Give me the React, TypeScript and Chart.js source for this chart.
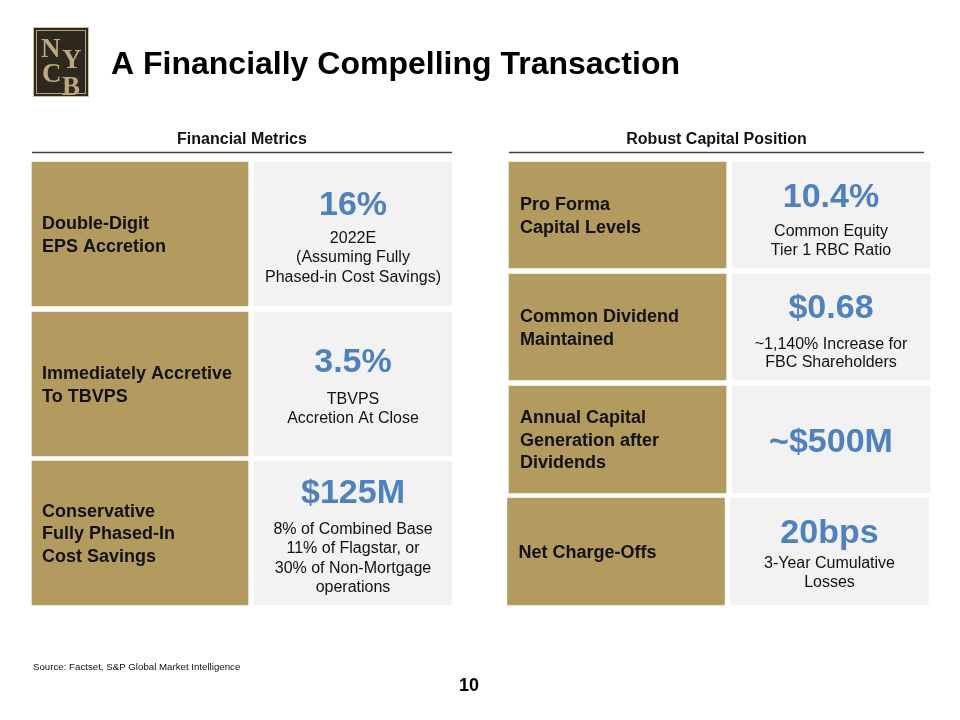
import React, { useEffect, useRef } from "react";
import { Chart, registerables } from "chart.js";

Chart.register(...registerables);

// ---- data ----
const slideTitle = "A Financially Compelling Transaction";
const panelTitles = ["Financial Metrics", "Robust Capital Position"];
const logoLetters = ["N", "Y", "C", "B"];

const leftLabels = [
  ["Double-Digit", "EPS Accretion"],
  ["Immediately Accretive", "To TBVPS"],
  ["Conservative", "Fully Phased-In", "Cost Savings"],
];
const leftValues = ["16%", "3.5%", "$125M"];
const leftNotes = [
  ["2022E", "(Assuming Fully", "Phased-in Cost Savings)"],
  ["TBVPS", "Accretion At Close"],
  ["8% of Combined Base", "11% of Flagstar, or", "30% of Non-Mortgage", "operations"],
];

const rightLabels = [
  ["Pro Forma", "Capital Levels"],
  ["Common Dividend", "Maintained"],
  ["Annual Capital", "Generation after", "Dividends"],
  ["Net Charge-Offs"],
];
const rightValues = ["10.4%", "$0.68", "~$500M", "20bps"];
const rightNotes = [
  ["Common Equity", "Tier 1 RBC Ratio"],
  ["~1,140% Increase for", "FBC Shareholders"],
  [],
  ["3-Year Cumulative", "Losses"],
];

const sourceNote = "Source: Factset, S&P Global Market Intelligence";
const pageNumber = "10";

// ---- layout (positions, separate from the data) ----
const leftRows = [[162, 306], [312, 456], [461, 605]];
const rightRows = [[162, 268], [274, 380], [386, 493], [498, 605]];
const rightRowShift = [0, 0, 0, -1.5];
const leftGold = [32, 248];
const leftGray = [254, 452];
const rightGold = [509, 726];
const rightGray = [732, 930];
const leftValueY = [215, 372, 503];
const leftGap = [28, 32, 31];
const rightValueY = [206.5, 318, 451.5, 543];
const rightGap = [29.5, 30.5, 0, 25];
const logoPos = [[41, 57], [62, 68], [42, 82], [62, 95]];

const GOLD = "#B39A5F";
const GRAY = "#F2F2F2";
const BLUE = "#4F81BD";
const INK = "#111111";
const FONT = '"Liberation Sans", Arial, sans-serif';

function tileDataset(col: number[], rows: number[][], color: string, shift?: number[]) {
  return {
    type: "bar" as const,
    data: rows.map((r, i) => ({ x: (col[0] + col[1]) / 2 + (shift ? shift[i] : 0), y: [r[0], r[1]] })),
    backgroundColor: color,
    borderWidth: 0,
    barThickness: col[1] - col[0],
    stack: "tiles",
    grouped: true,
  };
}

const slidePlugin = {
  id: "slideText",
  afterDatasetsDraw(chart: any) {
    const ctx = chart.ctx as CanvasRenderingContext2D;
    const xs = chart.scales.x;
    const ys = chart.scales.y;
    const X = (v: number) => xs.getPixelForValue(v);
    const Y = (v: number) => ys.getPixelForValue(v);
    ctx.save();

    // logo
    ctx.fillStyle = "#2E281F";
    ctx.fillRect(X(33), Y(27), X(89) - X(33), Y(97) - Y(27));
    ctx.strokeStyle = "#CDBE9F";
    ctx.lineWidth = 1;
    ctx.strokeRect(X(33.5), Y(27.5), 55, 69);
    ctx.strokeStyle = "#B8A47C";
    ctx.strokeRect(X(36.5), Y(30.5), 49, 63);
    ctx.fillStyle = "#BCA87F";
    ctx.font = `bold 27px "Liberation Serif", "DejaVu Serif", serif`;
    ctx.textAlign = "left";
    ctx.textBaseline = "alphabetic";
    logoLetters.forEach((l, i) => ctx.fillText(l, X(logoPos[i][0]), Y(logoPos[i][1])));

    // title
    ctx.fillStyle = "#000";
    ctx.font = `bold 32px ${FONT}`;
    ctx.fillText(slideTitle, X(111), Y(74));

    // panel headings + rules
    ctx.font = `bold 16px ${FONT}`;
    ctx.textAlign = "center";
    ctx.fillStyle = "#111";
    ctx.fillText(panelTitles[0], X((32 + 452) / 2), Y(144));
    ctx.fillText(panelTitles[1], X((509 + 924) / 2), Y(144));
    ctx.strokeStyle = "#404040";
    ctx.lineWidth = 1.5;
    ctx.beginPath();
    ctx.moveTo(X(32), Y(152.5));
    ctx.lineTo(X(452), Y(152.5));
    ctx.moveTo(X(509), Y(152.5));
    ctx.lineTo(X(924), Y(152.5));
    ctx.stroke();

    const labelBlock = (lines: string[], x: number, r: number[]) => {
      ctx.font = `bold 18px ${FONT}`;
      ctx.textAlign = "left";
      ctx.fillStyle = INK;
      const c = (r[0] + r[1]) / 2;
      const sp = 22.5;
      const first = c - ((lines.length - 1) * sp) / 2 + 6.4;
      lines.forEach((t, i) => ctx.fillText(t, X(x), Y(first + i * sp)));
    };
    const valueBlock = (v: string, notes: string[], cx: number, vy: number, gap: number, sp: number) => {
      ctx.textAlign = "center";
      ctx.fillStyle = BLUE;
      ctx.font = `bold 34px ${FONT}`;
      ctx.fillText(v, X(cx), Y(vy));
      ctx.fillStyle = INK;
      ctx.font = `16px ${FONT}`;
      notes.forEach((t, i) => ctx.fillText(t, X(cx), Y(vy + gap + i * sp)));
    };

    leftRows.forEach((r, i) => {
      labelBlock(leftLabels[i], 42, r);
      valueBlock(leftValues[i], leftNotes[i], (leftGray[0] + leftGray[1]) / 2, leftValueY[i], leftGap[i], 19.3);
    });
    rightRows.forEach((r, i) => {
      labelBlock(rightLabels[i], 520 + rightRowShift[i], r);
      valueBlock(
        rightValues[i],
        rightNotes[i],
        (rightGray[0] + rightGray[1]) / 2 + rightRowShift[i],
        rightValueY[i],
        rightGap[i],
        18.5
      );
    });

    // footer
    ctx.textAlign = "left";
    ctx.fillStyle = "#111";
    ctx.font = `9.7px ${FONT}`;
    ctx.fillText(sourceNote, X(33), Y(670));
    ctx.textAlign = "center";
    ctx.font = `bold 18px ${FONT}`;
    ctx.fillStyle = "#000";
    ctx.fillText(pageNumber, X(469), Y(691));

    ctx.restore();
  },
};

export default function App() {
  const ref = useRef<HTMLCanvasElement | null>(null);
  useEffect(() => {
    if (!ref.current) return;
    const chart = new Chart(ref.current, {
      type: "bar",
      data: {
        datasets: [
          tileDataset(leftGold, leftRows, GOLD),
          tileDataset(leftGray, leftRows, GRAY),
          tileDataset(rightGold, rightRows, GOLD, rightRowShift),
          tileDataset(rightGray, rightRows, GRAY, rightRowShift),
        ] as any,
      },
      options: {
        animation: false,
        responsive: false,
        devicePixelRatio: 1,
        layout: { padding: 0 },
        plugins: { legend: { display: false }, tooltip: { enabled: false }, title: { display: false } },
        events: [],
        scales: {
          x: { type: "linear", min: 0, max: 960, display: false, offset: false },
          y: { type: "linear", min: 0, max: 720, reverse: true, display: false, stacked: false },
        },
      } as any,
      plugins: [slidePlugin],
    });
    return () => chart.destroy();
  }, []);
  return (
    <div style={{ position: "absolute", left: 0, top: 0, width: 960, height: 720, background: "#fff" }}>
      <canvas ref={ref} width={960} height={720} style={{ width: 960, height: 720, display: "block" }} />
    </div>
  );
}
